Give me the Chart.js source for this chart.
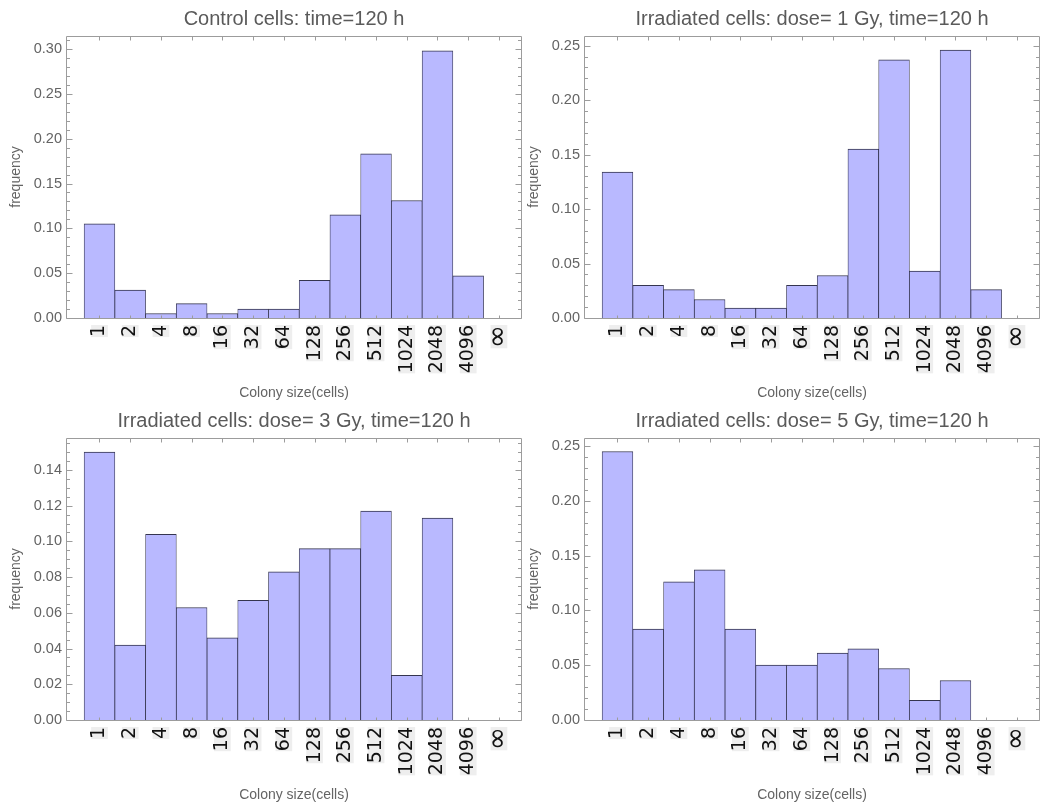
<!DOCTYPE html>
<html>
<head>
<meta charset="utf-8">
<script src="https://cdn.jsdelivr.net/npm/chart.js@4.4.1/dist/chart.umd.min.js"></script>
<style>
  html, body { margin: 0; padding: 0; background: #ffffff; }
  #wrap { position: relative; width: 1041px; height: 809px; overflow: hidden; }
  #wrap canvas { position: absolute; }
</style>
</head>
<body>
<div id="wrap">
  <canvas id="c0" width="523" height="402" style="left:0px;top:0px"></canvas>
  <canvas id="c1" width="523" height="402" style="left:518px;top:0px"></canvas>
  <canvas id="c2" width="523" height="402" style="left:0px;top:402px"></canvas>
  <canvas id="c3" width="523" height="402" style="left:518px;top:402px"></canvas>
</div>
<script>
// Colony-size bins (log2 classes of cells per colony)
const colonySizes = ['1', '2', '4', '8', '16', '32', '64', '128', '256', '512', '1024', '2048', '4096', '∞'];

// Relative frequency of colonies in each size class
const controlFreq = [0.105, 0.031, 0.005, 0.016, 0.005, 0.010, 0.010, 0.042, 0.115, 0.183, 0.131, 0.298, 0.047, 0];
const dose1Freq   = [0.134, 0.030, 0.026, 0.017, 0.009, 0.009, 0.030, 0.039, 0.155, 0.237, 0.043, 0.246, 0.026, 0];
const dose3Freq   = [0.150, 0.042, 0.104, 0.063, 0.046, 0.067, 0.083, 0.096, 0.096, 0.117, 0.025, 0.113, 0, 0];
const dose5Freq   = [0.245, 0.083, 0.126, 0.137, 0.083, 0.050, 0.050, 0.061, 0.065, 0.047, 0.018, 0.036, 0, 0];

const panelTitles = [
  'Control cells: time=120 h',
  'Irradiated cells: dose= 1 Gy, time=120 h',
  'Irradiated cells: dose= 3 Gy, time=120 h',
  'Irradiated cells: dose= 5 Gy, time=120 h'
];

// Labelled y ticks per panel
const yTicksControl = [0, 0.05, 0.10, 0.15, 0.20, 0.25, 0.30];
const yTicksDose1   = [0, 0.05, 0.10, 0.15, 0.20, 0.25];
const yTicksDose3   = [0, 0.02, 0.04, 0.06, 0.08, 0.10, 0.12, 0.14];
const yTicksDose5   = [0, 0.05, 0.10, 0.15, 0.20, 0.25];

// Upper end of each frequency axis
const yAxisTop = [0.3145, 0.2589, 0.1579, 0.2573];

const panels = [
  { id: 'c0', values: controlFreq, ticks: yTicksControl, sub: 5 },
  { id: 'c1', values: dose1Freq,   ticks: yTicksDose1,   sub: 5 },
  { id: 'c2', values: dose3Freq,   ticks: yTicksDose3,   sub: 4 },
  { id: 'c3', values: dose5Freq,   ticks: yTicksDose5,   sub: 5 }
];

const GREY_TEXT = '#646464';
const FRAME = '#9c9c9c';

// Boxed frame with inward ticks (y majors/minors on both sides, bin ticks on top/bottom)
const framePlugin = {
  id: 'frame',
  afterDatasetsDraw(chart, args, opts) {
    const { ctx, chartArea: a, scales: { x, y } } = chart;
    const L = Math.round(a.left) + 0.5;
    const R = Math.round(a.right) - 0.5;
    const T = Math.round(a.top) + 0.5;
    const B = Math.round(a.bottom) + 0.5;
    ctx.save();
    ctx.strokeStyle = FRAME;
    ctx.lineWidth = 1;
    ctx.beginPath();
    ctx.moveTo(L, T); ctx.lineTo(R, T); ctx.lineTo(R, B); ctx.lineTo(L, B); ctx.closePath();
    const major = opts.ticks;
    const step = (major[1] - major[0]) / opts.sub;
    for (let k = 0; k * step <= y.max + 1e-9; k++) {
      const py = Math.round(y.getPixelForValue(k * step)) + 0.5;
      const len = (k % opts.sub === 0) ? 6 : 3.5;
      ctx.moveTo(L, py); ctx.lineTo(L + len, py);
      ctx.moveTo(R, py); ctx.lineTo(R - len, py);
    }
    for (let i = 0; i < colonySizes.length; i++) {
      const px = Math.round(x.getPixelForValue(i)) + 0.5;
      ctx.moveTo(px, T); ctx.lineTo(px, T + 4);
      ctx.moveTo(px, B); ctx.lineTo(px, B - 3);
    }
    ctx.stroke();
    ctx.restore();
  }
};

// Size-class labels: a fixed backdrop thickness, with the infinity sign set larger
const tickFontPx = 19;
const tickBoxPx = 16.7;
const tickFont = c => {
  const size = (colonySizes[c.index] === '∞') ? 28 : tickFontPx;
  return { family: 'DejaVu Sans', size, lineHeight: tickBoxPx / size };
};

panels.forEach((p, k) => {
  new Chart(document.getElementById(p.id), {
    type: 'bar',
    data: {
      datasets: [{
        data: p.values.map((v, i) => ({ x: i, y: v })),
        backgroundColor: 'rgb(185,185,255)',
        borderColor: 'rgba(25,25,55,0.88)',
        borderWidth: { top: 1, left: 0.75, right: 0.75, bottom: 0 },
        borderSkipped: false,
        barPercentage: 1,
        categoryPercentage: 1
      }]
    },
    options: {
      responsive: false,
      animation: false,
      events: [],
      layout: { padding: { left: 0, right: 1, top: 0, bottom: 0 } },
      plugins: {
        legend: { display: false },
        tooltip: { enabled: false },
        title: {
          display: true,
          fullSize: false,
          text: panelTitles[k],
          color: '#5a5a5a',
          font: { family: 'Liberation Sans', size: 20, weight: 'normal' },
          padding: { top: 7.5, bottom: 4.5 }
        },
        frame: { ticks: p.ticks, sub: p.sub }
      },
      scales: {
        x: {
          type: 'linear',
          min: -1.09,
          max: 13.75,
          bounds: 'data',
          offset: false,
          grid: { display: false, drawTicks: false },
          border: { display: false },
          afterBuildTicks: s => { s.ticks = colonySizes.map((_, i) => ({ value: i })); },
          afterFit: s => { s.height = 84; },
          ticks: {
            autoSkip: false,
            minRotation: 90,
            maxRotation: 90,
            padding: 7,
            color: '#111111',
            font: tickFont,
            showLabelBackdrop: true,
            backdropColor: '#eeeeee',
            backdropPadding: 0,
            labelOffset: -tickBoxPx / 2,
            callback: v => colonySizes[v]
          },
          title: {
            display: true,
            text: 'Colony size(cells)',
            color: GREY_TEXT,
            font: { family: 'Liberation Sans', size: 14 },
            padding: { top: 0, bottom: 0 }
          }
        },
        y: {
          min: 0,
          max: yAxisTop[k],
          bounds: 'data',
          grid: { display: false, drawTicks: false },
          border: { display: false },
          afterBuildTicks: s => { s.ticks = p.ticks.map(v => ({ value: v })); },
          afterFit: s => { s.width = 66; },
          ticks: {
            padding: 4,
            color: GREY_TEXT,
            font: { family: 'Liberation Sans', size: 14.5 },
            callback: v => v.toFixed(2)
          },
          title: {
            display: true,
            text: 'frequency',
            color: GREY_TEXT,
            font: { family: 'Liberation Sans', size: 14 },
            padding: { top: 8, bottom: 0 }
          }
        }
      }
    },
    plugins: [framePlugin]
  });
});
</script>
</body>
</html>
